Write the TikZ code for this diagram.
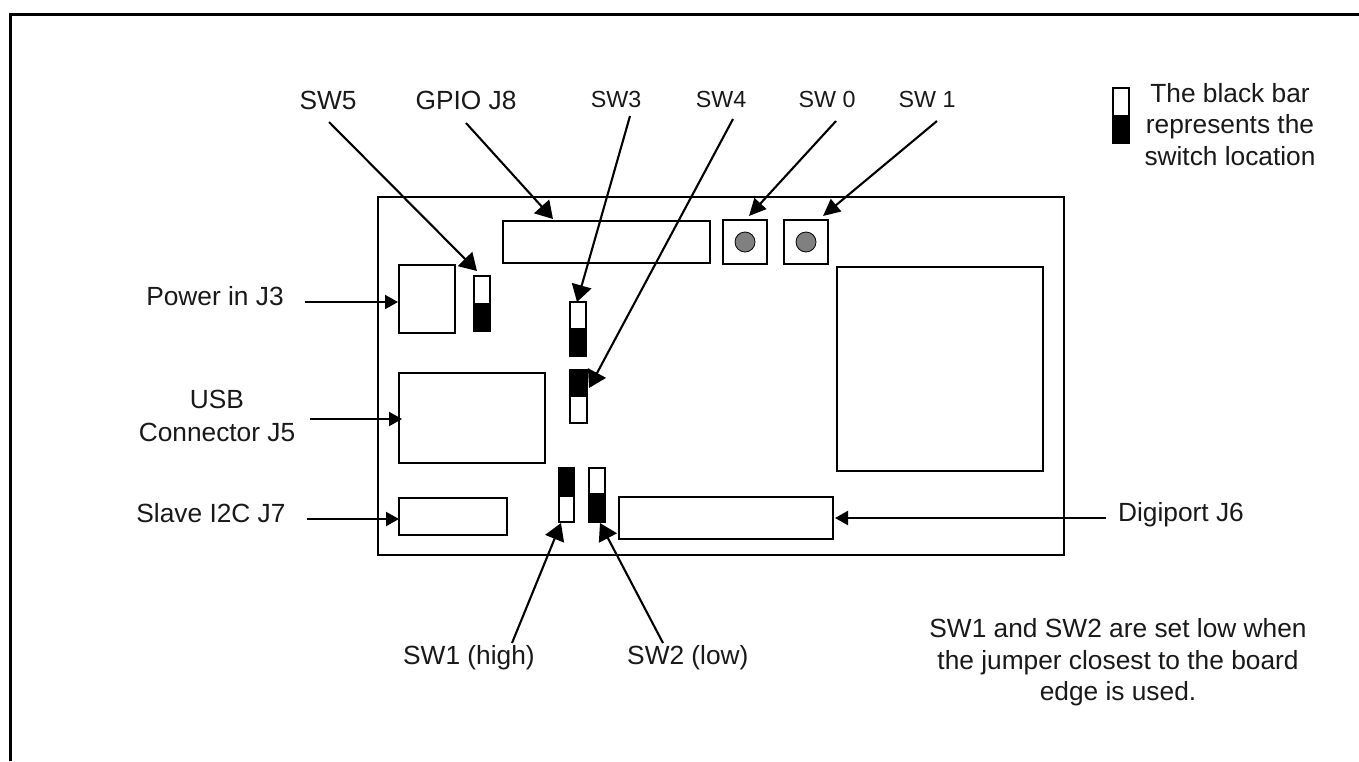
\documentclass[tikz,border=0pt]{standalone}
\usepackage{fontspec}
\setmainfont{Liberation Sans}
\usetikzlibrary{arrows.meta}
\newcommand\bx[5]{\node[partbox,minimum width={(#4-#2)*1pt},minimum height={(#5-#3)*1pt}] (#1) at ({(#2+#4)/2},{(#3+#5)/2}) {};}
\newcommand\blackbar[4]{\fill[black] (#1,#2) rectangle (#3,#4);}
\tikzset{
  partbox/.style={draw=black,line width=2.1pt,fill=white,inner sep=0pt,outer sep=0pt},
  big/.style={font=\fontsize{26.3}{30}\selectfont,anchor=base,align=center,inner sep=0pt,text=black!90},
  small/.style={font=\fontsize{23.3}{30}\selectfont,anchor=base,align=center,inner sep=0pt,text=black!90},
  lead/.style={line width=2.1pt,draw=black},
  headS/.style={lead,-{Triangle[length=13pt,width=14pt]}},
  headM/.style={lead,-{Triangle[length=17pt,width=16pt]}},
  headL/.style={lead,-{Triangle[length=17pt,width=20pt]}},
  knob/.style={circle,draw=black,line width=0.8pt,fill=black!50,minimum size=20pt,inner sep=0pt,outer sep=0pt}
}
\begin{document}
\begin{tikzpicture}[x=1pt,y=-1pt]
\useasboundingbox (0,0) rectangle (1359,761);
\fill[white] (0,0) rectangle (1359,761);
\draw[line width=3pt,line cap=butt,miter limit=10] (10.5,761) -- (10.5,14.5) -- (1359,14.5);
% board
\bx{board}{378}{197}{1064}{555}
\bx{gpio}{503}{221}{710}{263}
\bx{jthree}{399}{265}{455}{333}
\bx{usb}{399}{373}{545}{463}
\bx{slave}{399}{498}{507}{535}
\bx{digi}{619}{497}{833}{539}
\bx{chip}{837}{267}{1043}{471}
\bx{swzero}{723}{220}{767}{264}
\bx{swone}{784}{220}{828}{264}
\node[knob] (kzero) at (745,242) {};
\node[knob] (kone) at (806,242) {};
% switches
\bx{sfive}{474}{276}{490}{331}  \blackbar{473.5}{303}{490.5}{332}
\bx{sthree}{570}{302}{586}{356} \blackbar{569.5}{328}{586.5}{357}
\bx{sfour}{570}{370}{587}{423}  \blackbar{569.5}{370}{587.5}{397}
\bx{shigh}{559}{468}{574}{522}  \blackbar{558.5}{468}{574.5}{497}
\bx{slow}{589}{468}{605}{522}   \blackbar{588.5}{493}{606}{523}
\bx{slegend}{1113}{88}{1129}{143} \blackbar{1112.5}{115}{1129.5}{144}
% end points
\coordinate (tfive) at (329,122);   \coordinate (pfive) at (477,271);
\coordinate (tgpio) at (466,123);   \coordinate (pgpio) at (553,219);
\coordinate (tthree) at (630,116);  \coordinate (pthree) at (577,302);
\coordinate (tfour) at (733,119);   \coordinate (pfour) at (589,388);
\coordinate (tzero) at (836,121);   \coordinate (pzero) at (749,216);
\coordinate (tone) at (937,121);    \coordinate (pone) at (823,216);
\coordinate (tpow) at (305,302);    \coordinate (ppow) at (398,302);
\coordinate (tusb) at (310,419);    \coordinate (pusb) at (402,419);
\coordinate (tsl) at (307,519);     \coordinate (psl) at (399,519);
\coordinate (tdg) at (1106,518);    \coordinate (pdg) at (835,518);
\coordinate (thi) at (512,643);     \coordinate (phi) at (561,523);
\coordinate (tlo) at (663,643);     \coordinate (plo) at (600,523);
\draw[headL] (tfive) -- (pfive);
\draw[headL] (tgpio) -- (pgpio);
\draw[headL] (tthree) -- (pthree);
\draw[headL] (tfour) -- (pfour);
\draw[headM] (tzero) -- (pzero);
\draw[headM] (tone) -- (pone);
\draw[headS] (tpow) -- (ppow);
\draw[headS] (tusb) -- (pusb);
\draw[headS] (tsl) -- (psl);
\draw[headS] (tdg) -- (pdg);
\draw[headL] (thi) -- (phi);
\draw[headL] (tlo) -- (plo);
% labels
\node[big] (lfive) at (328,109) {SW5};
\node[big] (lgpio) at (466,109) {GPIO J8};
\node[small] (lthree) at (616,107) {SW3};
\node[small] (lfour) at (721,107) {SW4};
\node[small] (lzero) at (827,107) {SW 0};
\node[small] (lone) at (927,107) {SW 1};
\node[big] (lpow) at (215,305) {Power in J3};
\node[big] (lusb) at (217,408) {USB};
\node[big] (lconn) at (217,441) {Connector J5};
\node[big] (lsl) at (211,522) {Slave I2C J7};
\node[big] (ldg) at (1181,521) {Digiport J6};
\node[big,anchor=base west] (lhi) at (403,664) {SW1 (high)};
\node[big,anchor=base west] (llo) at (627,664) {SW2 (low)};
\node[big] (la) at (1230,102) {The black bar};
\node[big] (lb) at (1230,133) {represents the};
\node[big] (lc) at (1230,165) {switch location};
\node[big] (ld) at (1118,637) {SW1 and SW2 are set low when};
\node[big] (le) at (1118,669) {the jumper closest to the board};
\node[big] (lf) at (1118,700) {edge is used.};
\end{tikzpicture}
\end{document}
